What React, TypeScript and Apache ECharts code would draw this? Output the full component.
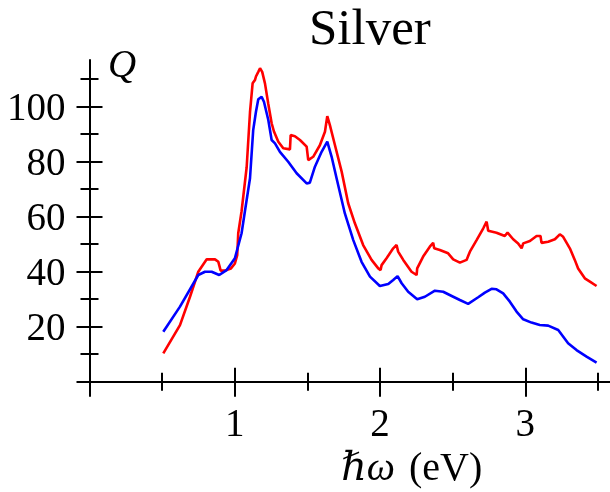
import React, { useEffect, useRef } from "react";
import * as echarts from "echarts";

const redEnergy = [0.508, 0.623, 0.692, 0.749, 0.807, 0.864, 0.887, 0.903, 0.933, 0.974, 1.001, 1.017, 1.024, 1.047, 1.082, 1.105, 1.123, 1.139, 1.146, 1.162, 1.174, 1.189, 1.208, 1.231, 1.254, 1.27, 1.3, 1.334, 1.38, 1.385, 1.414, 1.449, 1.495, 1.506, 1.54, 1.586, 1.621, 1.637, 1.655, 1.69, 1.736, 1.781, 1.827, 1.884, 1.942, 1.988, 2.004, 2.011, 2.045, 2.091, 2.114, 2.125, 2.16, 2.217, 2.252, 2.256, 2.297, 2.343, 2.366, 2.373, 2.412, 2.469, 2.504, 2.55, 2.596, 2.619, 2.665, 2.711, 2.734, 2.745, 2.802, 2.859, 2.878, 2.917, 2.951, 2.975, 2.986, 3.032, 3.078, 3.105, 3.112, 3.158, 3.204, 3.238, 3.261, 3.307, 3.341, 3.364, 3.41, 3.445, 3.491];
const redQ = [10.3, 20.6, 30.9, 40, 44.5, 44.5, 43.6, 40.4, 40.4, 41.2, 43, 46, 54, 62, 78, 98, 108.5, 109.7, 111, 112.7, 114, 112.7, 108.5, 101, 94, 91, 87.3, 84.9, 84.5, 89.7, 89.3, 87.9, 85.5, 80.6, 81.8, 86, 90.9, 96.6, 93.3, 86, 76.4, 64.9, 57.6, 49.7, 44.3, 41.2, 40.6, 42.4, 44.9, 48.5, 49.7, 47.3, 44.3, 40, 38.8, 41.2, 45.5, 49.1, 50.5, 48.5, 47.9, 46.7, 44.5, 43.3, 44.3, 47.3, 51.5, 55.8, 58.2, 54.9, 54.2, 53, 54.2, 51.8, 50.3, 48.5, 50.3, 51.2, 53, 53, 50.5, 50.9, 51.8, 53.6, 52.7, 48.5, 44.3, 41.2, 37.6, 36.4, 34.8];

const blueEnergy = [0.508, 0.623, 0.749, 0.795, 0.841, 0.893, 0.944, 1.001, 1.047, 1.07, 1.105, 1.127, 1.146, 1.162, 1.185, 1.201, 1.231, 1.254, 1.277, 1.311, 1.368, 1.426, 1.495, 1.517, 1.552, 1.598, 1.637, 1.667, 1.701, 1.758, 1.816, 1.873, 1.931, 1.999, 2.057, 2.091, 2.121, 2.149, 2.194, 2.256, 2.309, 2.378, 2.435, 2.504, 2.55, 2.607, 2.676, 2.722, 2.768, 2.802, 2.848, 2.894, 2.94, 2.986, 3.043, 3.1, 3.158, 3.227, 3.295, 3.353, 3.422, 3.491];
const blueQ = [18.2, 27.3, 38.8, 40, 40, 38.8, 40.6, 44.9, 54, 62, 74, 91.5, 98.2, 102.7, 103.6, 101.8, 95.2, 87.9, 86.7, 83.6, 80, 75.8, 72.1, 72.4, 78.2, 83.6, 87.3, 81.8, 74, 61.2, 51.5, 43.6, 38.2, 34.8, 35.5, 37, 38.4, 35.8, 32.7, 30, 30.9, 33.1, 32.7, 30.9, 29.7, 28.3, 30.7, 32.4, 33.8, 33.6, 32.1, 29.1, 25.5, 22.7, 21.5, 20.6, 20.4, 18.8, 14, 11.5, 9.1, 6.9];

const xMajorTicks = [1, 2, 3];
const xMinorTicks = [0, 0.5, 1.5, 2.5, 3.5];
const yMajorTicks = [20, 40, 60, 80, 100];
const yMinorTicks = [10, 30, 50, 70, 90, 110];

const FONT = "'Liberation Serif', 'DejaVu Serif', 'Times New Roman', serif";
const X_MIN = 0;
const X_MAX = 3.58;
const Y_MIN = 0;
const Y_MAX = 117;

export default function App() {
  const ref = useRef<HTMLDivElement>(null);
  useEffect(() => {
    if (!ref.current) return;
    const chart = echarts.init(ref.current, null, { renderer: "svg" });
    const black = "#000";
    const mkX = (ticks: number[], len: number, inside: boolean, main: boolean) => ({
      type: "value",
      min: X_MIN,
      max: X_MAX,
      position: "bottom",
      axisLine: { show: main, onZero: false, lineStyle: { color: black, width: 2 } },
      axisTick: { show: true, customValues: ticks, length: len, inside, lineStyle: { color: black, width: 2 } },
      axisLabel: main
        ? { show: true, customValues: xMajorTicks, color: black, fontSize: 39, fontFamily: FONT, margin: 21 }
        : { show: false },
      splitLine: { show: false },
    });
    const mkY = (ticks: number[], len: number, inside: boolean, main: boolean) => ({
      type: "value",
      min: Y_MIN,
      max: Y_MAX,
      position: "left",
      axisLine: { show: main, onZero: false, lineStyle: { color: black, width: 2 } },
      axisTick: { show: true, customValues: ticks, length: len, inside, lineStyle: { color: black, width: 2 } },
      axisLabel: main
        ? { show: true, customValues: yMajorTicks, color: black, fontSize: 39, fontFamily: FONT, margin: 24 }
        : { show: false },
      splitLine: { show: false },
    });
    chart.setOption({
      animation: false,
      grid: { left: 89.5, right: 0.5, top: 60, bottom: 110.3, containLabel: false },
      xAxis: [
        mkX([0, ...xMajorTicks], 15, false, true),
        mkX(xMajorTicks, 14, true, false),
        mkX(xMinorTicks, 9, false, false),
        mkX(xMinorTicks.filter((v) => v > 0), 9, true, false),
      ],
      yAxis: [
        mkY([0, ...yMajorTicks], 13, false, true),
        mkY(yMajorTicks, 13, true, false),
        mkY(yMinorTicks, 9, false, false),
        mkY(yMinorTicks, 9, true, false),
      ],
      series: [
        {
          type: "line",
          name: "red",
          xAxisIndex: 0,
          yAxisIndex: 0,
          data: redEnergy.map((e, i) => [e, redQ[i]]),
          showSymbol: false,
          lineStyle: { color: "#ff0000", width: 2.6 },
          itemStyle: { color: "#ff0000" },
        },
        {
          type: "line",
          name: "blue",
          xAxisIndex: 0,
          yAxisIndex: 0,
          data: blueEnergy.map((e, i) => [e, blueQ[i]]),
          showSymbol: false,
          lineStyle: { color: "#0000ff", width: 2.6 },
          itemStyle: { color: "#0000ff" },
        },
      ],
      graphic: [
        {
          type: "text",
          left: 309,
          top: 1,
          style: { text: "Silver", fontSize: 51, fontFamily: FONT, fill: black },
        },
        {
          type: "text",
          left: 108,
          top: 44,
          style: { text: "Q", fontSize: 39, fontStyle: "italic", fontFamily: FONT, fill: black },
        },
        {
          type: "text",
          left: 341,
          top: 446,
          style: {
            text: "{i|ℏω}{n|(eV)}",
            fill: black,
            rich: {
              i: { fontStyle: "italic", fontSize: 40, fontFamily: FONT, fill: black },
              n: { fontSize: 40, fontFamily: FONT, fill: black, padding: [0, 0, 0, 14] },
            },
          },
        },
      ],
    });
    return () => chart.dispose();
  }, []);
  return <div ref={ref} style={{ position: "fixed", left: 0, top: 0, width: 610, height: 492 }} />;
}
